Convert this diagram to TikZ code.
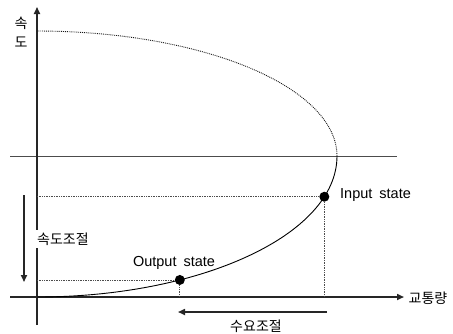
\documentclass[tikz,border=0pt]{standalone}
\usepackage{fontspec}
\setmainfont{Liberation Sans}
\newfontfamily\krfont{Noto Sans CJK KR}
\usetikzlibrary{arrows.meta}
\begin{document}
\begin{tikzpicture}[x=1pt,y=-1pt,
 axis/.style={line width=1.6pt, draw=black!85},
 curveline/.style={line width=0.9pt, draw=black},
 upperline/.style={line width=0.9pt, densely dotted, draw=black!90},
 dotline/.style={densely dotted, line width=0.7pt, draw=black!70},
 refline/.style={line width=0.8pt, draw=black!70},
 dot/.style={circle, fill=black, inner sep=0pt, minimum size=10pt},
 lbl/.style={font=\fontsize{14.5}{16}\selectfont, inner sep=1pt},
 krl/.style={font=\krfont\fontsize{14}{15}\selectfont, inner sep=1pt},
 tip/.style={-{Triangle[length=7pt,width=6pt]}}
]
\useasboundingbox (0,0) rectangle (453,333);
\coordinate (O) at (37,297);
\coordinate (ytop) at (37,7);
\coordinate (ybot) at (37,325);
\coordinate (xl) at (10,297);
\coordinate (xr) at (404,297);
\coordinate (top) at (37,31);
\coordinate (nose) at (337,156);
\coordinate (hl) at (10,156);
\coordinate (hr) at (397,156);

% reference horizontal line
\draw[refline] (hl) -- (hr);

% axes
\draw[axis, tip] (ybot) -- (ytop);
\draw[axis, tip] (xl) -- (xr);

% upper branch (dotted)
\draw[upperline] plot[domain=0:90, samples=80] ({37+300*cos(\x)}, {156-125*sin(\x)});

% lower branch
\draw[curveline] (O) .. controls (200,297) and (337,235) .. (nose)
  node[pos=0.315, dot] (out) {}
  node[pos=0.82, dot] (in) {};

% dotted guides
\draw[dotline] (in -| O) -- (in);
\draw[dotline] (in) -- (in |- O);
\draw[dotline] (out -| O) -- (out);
\draw[dotline] (out) -- (out |- O);

% labels
\node[lbl, anchor=west] (inl) at (339,195) {Input\hspace{3pt} state};
\node[lbl] (outl) at (174,263) {Output\hspace{3pt} state};
\node[krl] (v1) at (21,23) {속};
\node[krl] (v2) at (21,42) {도};
\node[krl] (xlab) at (428,298) {교통량};

% speed-control arrow
\coordinate (sa) at (24,195);
\coordinate (sb) at (24,282);
\draw[axis, tip] (sa) -- (sb);
\node[krl, fill=white, inner sep=3pt] (spd) at (63,239) {속도조절};

% demand-control arrow
\coordinate (da) at (327,312);
\coordinate (db) at (178,312);
\draw[axis, tip] (da) -- (db);
\node[krl] (dem) at (256,326) {수요조절};
\end{tikzpicture}
\end{document}
